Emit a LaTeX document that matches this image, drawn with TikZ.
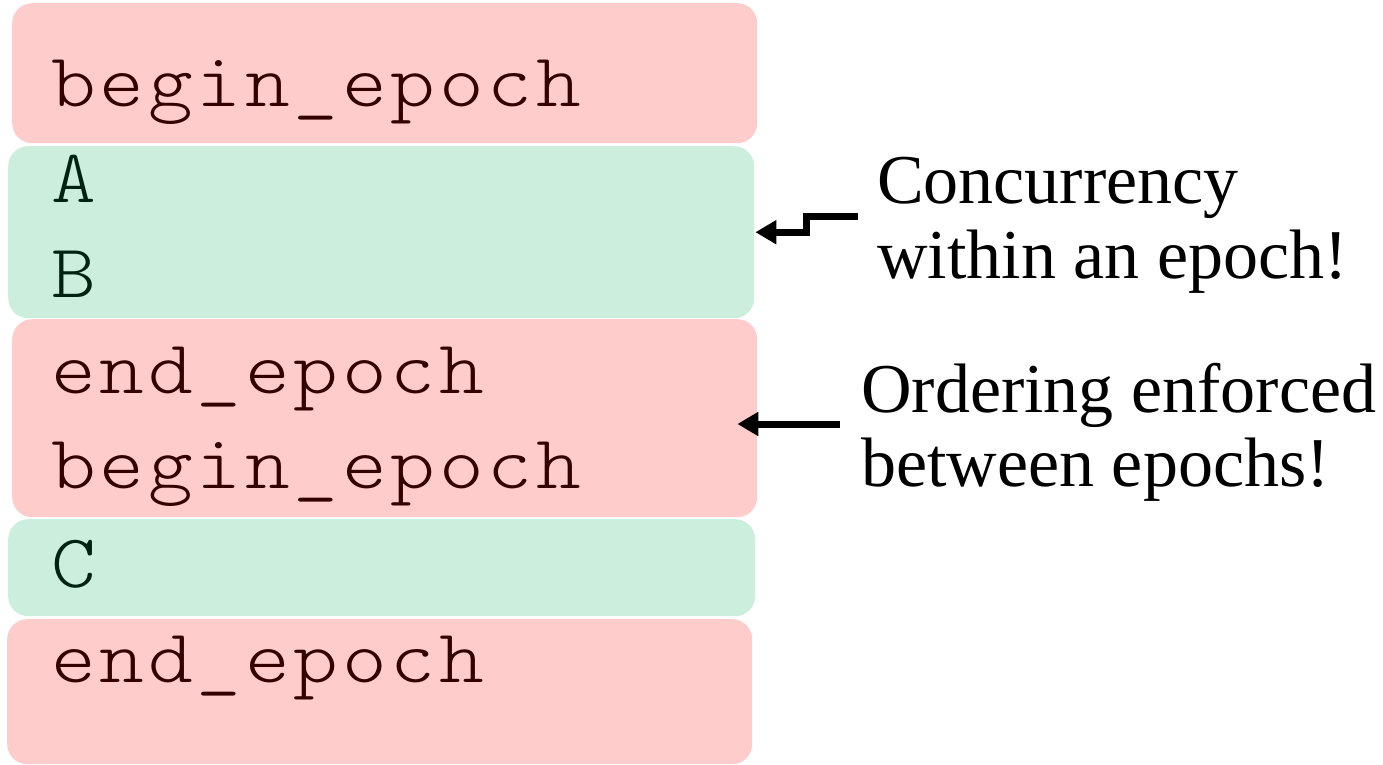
\documentclass[tikz,border=0pt]{standalone}
\usepackage{fontspec}
\setmonofont[FakeStretch=1.12, LetterSpace=5]{lmmonolt10-regular.otf}
\newfontfamily\notefont{Liberation Serif}
\usetikzlibrary{arrows.meta}

\definecolor{epochfill}{HTML}{FFCCCC}
\definecolor{opfill}{HTML}{CCEEDD}
\definecolor{epochtext}{HTML}{330000}
\definecolor{optext}{HTML}{002211}

\tikzset{
  block/.style={draw=none, rounded corners=20pt, inner sep=0pt, anchor=north west},
  epochblock/.style={block, fill=epochfill},
  opblock/.style={block, fill=opfill},
  code/.style={anchor=base west, inner sep=0pt, font=\fontsize{76}{95}\selectfont\ttfamily},
  epochcode/.style={code, text=epochtext},
  opcode/.style={code, text=optext},
  note/.style={anchor=base west, inner sep=0pt, font=\fontsize{70}{75}\selectfont\notefont},
  pointer/.style={line width=7pt, -{Triangle[length=21pt,width=23pt]}}
}

\begin{document}
\begin{tikzpicture}[x=1pt,y=-1pt]
\useasboundingbox (0,0) rectangle (1383,765);

% coloured bands
\node[epochblock, minimum width=745pt, minimum height=140pt] (e1) at (12,3) {};
\node[opblock,    minimum width=746pt, minimum height=172pt] (g1) at (8,146) {};
\node[epochblock, minimum width=745pt, minimum height=198pt] (e2) at (12,319) {};
\node[opblock,    minimum width=747pt, minimum height=97pt]  (g2) at (8,519) {};
\node[epochblock, minimum width=745pt, minimum height=145pt] (e3) at (7,619) {};

% code lines
\node[epochcode] (l1) at (51,107) {begin\_epoch};
\node[opcode]    (l2) at (51,202) {A};
\node[opcode]    (l3) at (51,297) {B};
\node[epochcode] (l4) at (51,393) {end\_epoch};
\node[epochcode] (l5) at (51,488) {begin\_epoch};
\node[opcode]    (l6) at (51,587) {C};
\node[epochcode] (l7) at (51,682) {end\_epoch};

% annotations
\node[note] (n1a) at (877,203) {Concurrency};
\node[note] (n1b) at (877,278) {within an epoch!};
\node[note] (n2a) at (861,412) {Ordering enforced};
\node[note] (n2b) at (861,486) {between epochs!};

% pointers
\coordinate (p1) at (858,216);
\coordinate (p2) at (840,424);
\draw[pointer] (p1) -- ++(-52,0) |- ([xshift=1pt]g1.east);
\draw[pointer] (p2) -- ([xshift=-20pt]e2.east |- p2);
\end{tikzpicture}
\end{document}
